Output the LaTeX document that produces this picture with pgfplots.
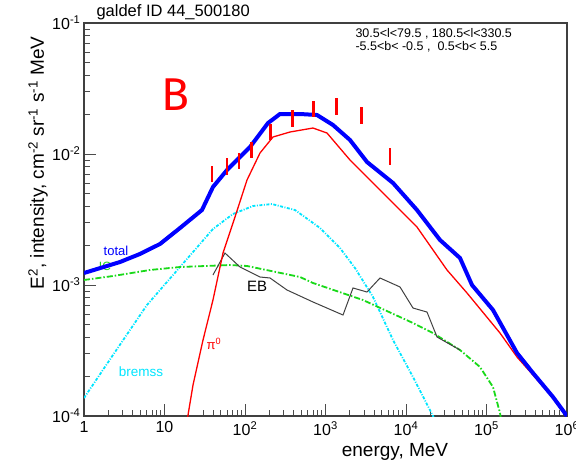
\documentclass[border=0pt]{standalone}
\usepackage{pgfplots}
\pgfplotsset{compat=1.18}
\usepackage{fontspec}
\setmainfont{Liberation Sans}
\newfontfamily\bfont{Fira Sans}
\definecolor{icgreen}{rgb}{0.1,0.85,0.1}
\definecolor{bcyan}{rgb}{0.0,0.9,1.0}
\definecolor{ebgray}{rgb}{0.25,0.25,0.25}
\begin{document}
\begin{tikzpicture}
\path[use as bounding box] (0pt,0pt) rectangle (576pt,468pt);
\begin{axis}[
  at={(84pt,52pt)}, anchor=south west,
  scale only axis, width=483pt, height=393pt,
  xmode=log, ymode=log,
  xmin=1, xmax=1e6, ymin=1e-4, ymax=1e-1,
  axis line style={line width=1.3pt, black!75},
  xtick pos=bottom, ytick pos=left, tick align=inside,
  major tick length=12pt, minor tick length=6pt,
  every tick/.style={black!70, line width=0.8pt},
  xtick={1,10,100,1000,10000,100000,1000000},
  xticklabels={1,10,10\textsuperscript{2},10\textsuperscript{3},10\textsuperscript{4},10\textsuperscript{5},10\textsuperscript{6}},
  minor xtick={2,3,4,5,6,7,8,9,20,30,40,50,60,70,80,90,200,300,400,500,600,700,800,900,2000,3000,4000,5000,6000,7000,8000,9000,20000,30000,40000,50000,60000,70000,80000,90000,200000,300000,400000,500000,600000,700000,800000,900000},
  ytick={1e-4,1e-3,1e-2,1e-1},
  yticklabels={10\textsuperscript{-4},10\textsuperscript{-3},10\textsuperscript{-2},10\textsuperscript{-1}},
  minor ytick={2e-4,3e-4,4e-4,5e-4,6e-4,7e-4,8e-4,9e-4,2e-3,3e-3,4e-3,5e-3,6e-3,7e-3,8e-3,9e-3,2e-2,3e-2,4e-2,5e-2,6e-2,7e-2,8e-2,9e-2},
  ticklabel style={font=\fontsize{16}{16}\selectfont},
  xticklabel style={yshift=-2pt},
]
% bremss
\addplot[bcyan, line width=1.8pt, dash pattern=on 3pt off 1.5pt on 1pt off 1.5pt] coordinates {
(1,1.372e-4) (2.29,2.922e-4) (6.06,7.04e-4) (15.58,1.372e-3) (40.0,2.676e-3) (70.9,3.483e-3) (125.7,4.01e-3) (216.4,4.15e-3) (418,3.736e-3) (855,2.723e-3) (1514,1.916e-3) (2325,1.348e-3) (3891,8.10e-4) (6894,3.804e-4) (12220,1.984e-4) (21650,1.0e-4) (22500,9.5e-5)};
% IC
\addplot[icgreen, line width=1.8pt, dash pattern=on 6pt off 2pt on 1.5pt off 2pt] coordinates {
(1,1.092e-3) (2.29,1.171e-3) (6.60,1.302e-3) (15.58,1.372e-3) (65.1,1.421e-3) (105.9,1.397e-3) (482,1.151e-3) (699,1.036e-3) (2923,7.68e-4) (12220,5.126e-4) (21650,4.30e-4) (46870,3.19e-4) (83080,2.366e-4) (120400,1.665e-4) (147100,1.054e-4) (151400,9.5e-5)};
% EB
\addplot[ebgray, line width=1pt] coordinates {
(40.0,1.192e-3) (56.4,1.754e-3) (86.7,1.372e-3) (153.6,1.151e-3) (204.5,1.131e-3) (332.4,9.16e-4) (699,7.42e-4) (1650,5.90e-4) (2196,9.49e-4) (3278,8.84e-4) (4753,1.131e-3) (8424,9.66e-4) (12220,6.67e-4) (18230,6.22e-4) (24280,4.01e-4) (46870,3.19e-4)};
% pi0
\addplot[red, line width=1.3pt] coordinates {
(19.3,9.6e-5) (22.6,1.724e-4) (30.1,3.804e-4) (40.0,7.68e-4) (53.3,1.754e-3) (75.1,3.304e-3) (105.9,6.33e-3) (153.6,1.018e-2) (222.7,1.348e-2) (362,1.472e-2) (699,1.579e-2) (1044,1.446e-2) (2015,9.0e-3) (5180,5.04e-3) (13690,2.771e-3) (32310,1.302e-3) (57270,8.69e-4) (147100,4.30e-4) (239300,2.821e-4) (378000,2.056e-4) (670000,1.372e-4) (971600,1.036e-4)};
\node[icgreen, font=\fontsize{12}{12}\selectfont] at (axis cs:1.82,1.396e-3) {IC};
% total
\addplot[blue, line width=4pt] coordinates {
(1,1.235e-3) (2.80,1.498e-3) (4.96,1.726e-3) (8.79,2.056e-3) (15.58,2.723e-3) (29.2,3.736e-3) (40.0,5.599e-3) (59.8,7.55e-3) (115.4,1.131e-2) (193.1,1.724e-2) (272,2.020e-2) (482,2.020e-2) (784,1.985e-2) (1239,1.665e-2) (2015,1.279e-2) (3278,8.69e-3) (6894,6.01e-3) (13690,3.736e-3) (26450,2.206e-3) (46870,1.607e-3) (66050,1.0e-3) (120400,6.446e-4) (239300,3.027e-4) (378000,2.129e-4) (670000,1.396e-4) (1e6,1.0e-4)};
% data
\addplot[draw=none, mark=none, error bars/.cd, y dir=both, y explicit, error mark=none, error bar style={draw=red, line width=2.4pt, solid}] coordinates {
(38.6,7.125e-3) +- (0,0.975e-3)
(59.3,8.095e-3) +- (0,1.175e-3)
(84.9,8.92e-3) +- (0,1.28e-3)
(121,1.0835e-2) +- (0,1.565e-3)
(208,1.485e-2) +- (0,2.05e-3)
(391,1.895e-2) +- (0,2.75e-3)
(706,2.24e-2) +- (0,3.1e-3)
(1376,2.325e-2) +- (0,3.35e-3)
(2811,1.995e-2) +- (0,3.05e-3)
(6324,9.67e-3) +- (0,1.43e-3)};
\node[blue, font=\fontsize{13}{13}\selectfont] at (axis cs:2.50,1.817e-3) {total};
\node[bcyan, font=\fontsize{13.5}{13.5}\selectfont] at (axis cs:5.11,2.168e-4) {bremss};
\node[red, font=\fontsize{13}{13}\selectfont] at (axis cs:41.2,3.548e-4) {π\textsuperscript{0}};
\node[black, font=\fontsize{15}{15}\selectfont] at (axis cs:141,9.83e-4) {EB};
\end{axis}
\node[anchor=west, font=\fontsize{16.5}{16.5}\selectfont] at (93pt,456pt) {galdef ID 44\_500180};
\node[anchor=west, font=\fontsize{12.5}{12.5}\selectfont] at (352pt,434pt) {30.5<l<79.5 , 180.5<l<330.5};
\node[anchor=west, font=\fontsize{12.5}{12.5}\selectfont] at (352pt,421pt) {-5.5<b< -0.5 ,\ \ 0.5<b< 5.5};
\node[rotate=90, font=\fontsize{19}{19}\selectfont] at (38pt,305pt) {E\textsuperscript{2}, intensity, cm\textsuperscript{-2} sr\textsuperscript{-1} s\textsuperscript{-1} MeV};
\node[font=\fontsize{19}{19}\selectfont] at (395pt,16pt) {energy, MeV};
\node[red, font=\bfont\fontsize{46}{46}\selectfont] at (175pt,373pt) {B};
\end{tikzpicture}
\end{document}
